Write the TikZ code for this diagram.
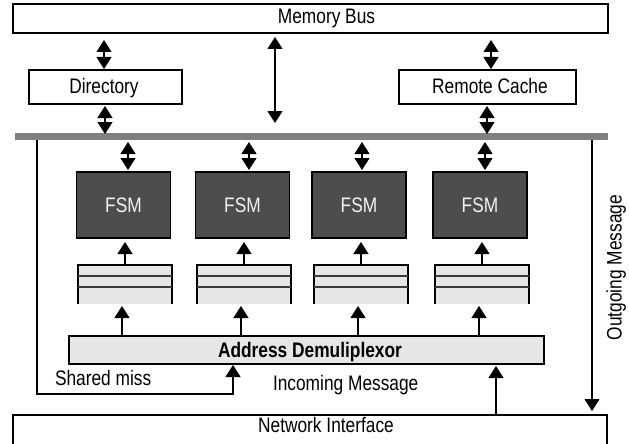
\documentclass[tikz,border=0pt]{standalone}
\usepackage{fontspec}
\setmainfont{Liberation Sans}[FakeStretch=0.825]
\usetikzlibrary{arrows.meta,calc}
\definecolor{fsmgray}{HTML}{4D4D4D}
\definecolor{fsmtext}{HTML}{F2F2F2}
\definecolor{lightfill}{HTML}{E6E6E6}
\definecolor{bargray}{HTML}{808080}
\definecolor{qsepcol}{HTML}{3A3A3A}
\begin{document}
\begin{tikzpicture}[x=1pt,y=-1pt,
  every node/.style={font=\fontsize{21pt}{25pt}\selectfont, inner sep=0pt, outer sep=0pt},
  box/.style={draw=black, line width=1.1pt, fill=white},
  fsmbox/.style={draw=black, line width=1.1pt, fill=fsmgray, text=fsmtext,
    minimum width=94pt, minimum height=66pt, text height=15pt, text depth=0pt},
  queuebox/.style={fill=lightfill, minimum width=94pt, minimum height=39pt},
  qsep/.style={line width=1.3pt, draw=qsepcol},
  arr/.style={line width=1.1pt, -{Triangle[length=12pt,width=15pt]}},
  dbl/.style={line width=1.1pt, {Triangle[length=12pt,width=15pt]}-{Triangle[length=12pt,width=15pt]}},
  plain/.style={line width=1.1pt}
]
\useasboundingbox (0,0) rectangle (629,444);
\clip (0,0) rectangle (629,444);

% top boxes
\node[box, minimum width=595pt, minimum height=29pt] (mem) at (310.5,18.5) {};
\node[anchor=base] (tmem) at (326.5,23.5) {Memory Bus};
\node[box, minimum width=153pt, minimum height=34pt] (dir) at (105.5,87) {};
\node[anchor=base] (tdir) at (104,93) {Directory};
\node[box, minimum width=177pt, minimum height=34pt] (rc) at (487.5,87) {};
\node[anchor=base] (trc) at (490,93) {Remote Cache};

% bus bar
\node[fill=bargray, minimum width=593pt, minimum height=7pt] (bar) at (311.5,136.5) {};

% FSMs
\node[fsmbox] (f1) at (123.5,205) {FSM};
\node[fsmbox] (f2) at (242.5,205) {FSM};
\node[fsmbox] (f3) at (359,205) {FSM};
\node[fsmbox] (f4) at (480,205) {FSM};

% queues
\node[queuebox] (q1) at (125,284.5) {};
\node[queuebox] (q2) at (244,284.5) {};
\node[queuebox] (q3) at (361,284.5) {};
\node[queuebox] (q4) at (482,284.5) {};
\foreach \i in {1,2,3,4} {
  \draw[plain] (q\i.south west) -- (q\i.north west) -- (q\i.north east) -- (q\i.south east);
  \draw[qsep] ($(q\i.north west)+(0,11)$) -- ($(q\i.north east)+(0,11)$);
  \draw[qsep] ($(q\i.north west)+(0,22)$) -- ($(q\i.north east)+(0,22)$);
}

% demultiplexor
\node[draw=black, line width=1.1pt, fill=lightfill, minimum width=475pt, minimum height=28pt,
      text height=15pt, text depth=0pt, font=\fontsize{21pt}{25pt}\selectfont\bfseries]
      (demux) at (306.5,350) {\hspace{7pt}Address Demuliplexor};

% network interface
\node[box, minimum width=594pt, minimum height=35pt] (net) at (310,432.5) {};
\node[anchor=base] (tnet) at (326,432.5) {Network Interface};

% labels
\node[anchor=base west] (tshared) at (55,385.5) {Shared miss};
\node[anchor=base west] (tincoming) at (273,390.5) {Incoming Message};
\node[rotate=90, anchor=base] (toutgoing) at (621.5,267.5) {Outgoing Message};

% arrows: top
\draw[dbl] ($(dir.north |- mem.south)+(-1.5,7)$) -- ($(dir.north)+(-1.5,-1)$);
\draw[dbl] ($(dir.south)+(-0.5,2)$) -- ($(dir.south |- bar.north)+(-0.5,1)$);
\draw[dbl] ($(rc.north |- mem.south)+(3.5,7)$) -- ($(rc.north)+(3.5,-1)$);
\draw[dbl] ($(rc.south)+(-0.5,2)$) -- ($(rc.south |- bar.north)+(-0.5,1)$);
\draw[dbl] ($(mem.south)+(-35.5,4)$) -- ($(bar.north)+(-36.5,-10)$);

% bar to FSMs
\foreach \i/\dx in {1/4.5, 2/6.5, 3/3, 4/5} {
  \draw[dbl] ($(bar.south -| f\i.north)+(\dx,2)$) -- ($(f\i.north)+(\dx,-2)$);
}
% queues to FSMs and demultiplexor to queues
\foreach \i in {1,2,3,4} {
  \draw[arr] (q\i.north) -- ($(q\i.north |- f\i.south)+(0,4)$);
  \draw[arr] ($(q\i.south |- demux.north)+(-3,0)$) -- ($(q\i.south)+(-3,2)$);
}

% shared miss loop
\draw[arr] ($(bar.south west)+(22,0)$) |- ($(demux.south west)+(164,30)$) -- ($(demux.south west)+(164,1)$);
% outgoing
\draw[arr] ($(bar.south east)+(-16,0)$) -- ($(net.north east)+(-15,-4)$);
% incoming
\draw[arr] ($(net.north west)+(483,0)$) -- ($(demux.south west)+(427,2)$);
\end{tikzpicture}
\end{document}
